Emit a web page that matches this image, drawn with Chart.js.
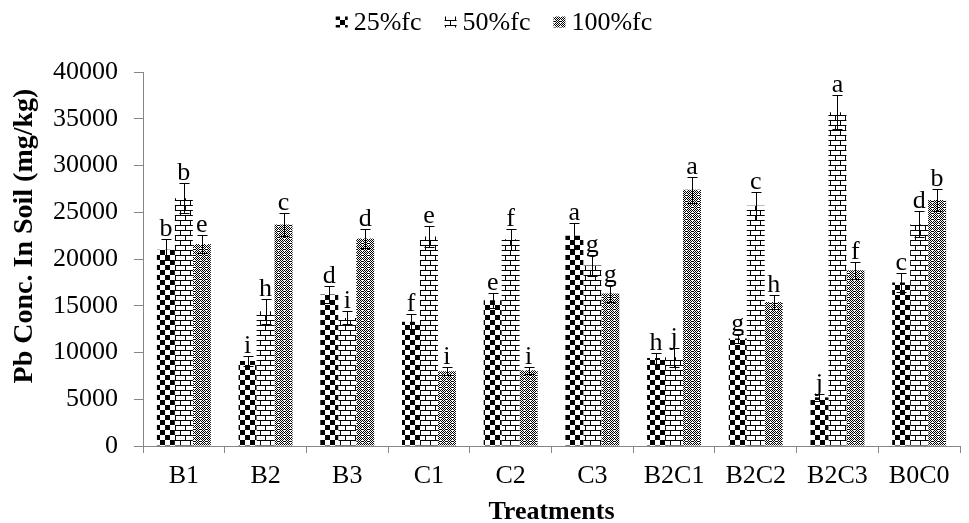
<!DOCTYPE html>
<html>
<head>
<meta charset="utf-8">
<script src="https://cdn.jsdelivr.net/npm/chart.js@4"></script>
<style>
    body { margin: 0; background: #fff; }
    #wrap { width: 969px; height: 523px; }
</style>
</head>
<body>
<div id="wrap"><canvas id="pbChart" width="969" height="523"></canvas></div>
<script>
// Data
const treatments = ['B1', 'B2', 'B3', 'C1', 'C2', 'C3', 'B2C1', 'B2C2', 'B2C3', 'B0C0'];
const seriesNames = ['25%fc', '50%fc', '100%fc'];

const fc25 = [21000, 9100, 16200, 13300, 15600, 22500, 9400, 11500, 5200, 17500];
const fc50 = [26500, 14400, 13700, 22400, 22100, 19300, 9500, 25700, 35700, 23700];
const fc100 = [21600, 23700, 22200, 8000, 8100, 16300, 27400, 15400, 18800, 26300];

const err25 = [1100, 500, 900, 800, 800, 1400, 600, 500, 400, 1000];
const err50 = [1600, 1300, 700, 1100, 1100, 1100, 1000, 1500, 1800, 1400];
const err100 = [1000, 1200, 1000, 400, 400, 900, 1400, 800, 900, 1200];

const letters25 = ['b', 'i', 'd', 'f', 'e', 'a', 'h', 'g', 'j', 'c'];
const letters50 = ['b', 'h', 'i', 'e', 'f', 'g', 'j', 'c', 'a', 'd'];
const letters100 = ['e', 'c', 'd', 'i', 'i', 'g', 'a', 'h', 'f', 'b'];

const yTicks = [0, 5000, 10000, 15000, 20000, 25000, 30000, 35000, 40000];

const xTitle = 'Treatments';
const yTitle = 'Pb Conc. In Soil (mg/kg)';

const serif = "'Liberation Serif', 'Times New Roman', serif";
const axisGrey = '#868686';

// Fill patterns
function checkerPattern() {
    const c = document.createElement('canvas');
    c.width = 10; c.height = 10;
    const g = c.getContext('2d');
    g.fillStyle = '#fff';
    g.fillRect(0, 0, 10, 10);
    g.fillStyle = '#000';
    g.fillRect(0, 0, 5, 5);
    g.fillRect(5, 5, 5, 5);
    return g.createPattern(c, 'repeat');
}

function brickPattern() {
    const c = document.createElement('canvas');
    c.width = 10; c.height = 10;
    const g = c.getContext('2d');
    g.fillStyle = '#fff';
    g.fillRect(0, 0, 10, 10);
    g.fillStyle = '#000';
    g.fillRect(0, 0, 10, 1);
    g.fillRect(0, 5, 10, 1);
    g.fillRect(0, 0, 1, 5);
    g.fillRect(5, 5, 1, 5);
    return g.createPattern(c, 'repeat');
}

function diamondPattern() {
    const c = document.createElement('canvas');
    c.width = 6; c.height = 6;
    const g = c.getContext('2d');
    g.fillStyle = '#fff';
    g.fillRect(0, 0, 6, 6);
    g.fillStyle = '#000';
    const dots = [[0,0],[2,0],[4,0],[1,1],[3,1],[5,1],[0,2],[4,2],[1,3],[2,3],[3,3],[5,3],[0,4],[4,4],[1,5],[3,5],[5,5]];
    dots.forEach(d => g.fillRect(d[0], d[1], 1, 1));
    return g.createPattern(c, 'repeat');
}

const errors = [err25, err50, err100];
const letters = [letters25, letters50, letters100];

// Error bars and significance letters
const errorBarPlugin = {
    id: 'errorBars',
    afterDatasetsDraw(chart) {
        const ctx = chart.ctx;
        const yScale = chart.scales.y;
        ctx.save();
        ctx.strokeStyle = '#000';
        ctx.lineWidth = 1;
        chart.data.datasets.forEach((ds, i) => {
            const meta = chart.getDatasetMeta(i);
            meta.data.forEach((bar, j) => {
                const v = ds.data[j];
                const e = errors[i][j];
                const x = Math.round(bar.x) + 0.5;
                const top = Math.round(yScale.getPixelForValue(v + e)) + 0.5;
                const bot = Math.round(yScale.getPixelForValue(v - e)) + 0.5;
                ctx.beginPath();
                ctx.moveTo(x, top);
                ctx.lineTo(x, bot);
                ctx.moveTo(x - 5, top);
                ctx.lineTo(x + 5, top);
                ctx.moveTo(x - 5, bot);
                ctx.lineTo(x + 5, bot);
                ctx.stroke();

                ctx.fillStyle = '#000';
                ctx.font = '26px ' + serif;
                ctx.textAlign = 'center';
                ctx.textBaseline = 'alphabetic';
                ctx.fillText(letters[i][j], bar.x, top - 4);
            });
        });
        ctx.restore();
    }
};

// Legend and y title drawn by hand
const legendAndTitlePlugin = {
    id: 'legendAndTitle',
    afterDraw(chart) {
        const ctx = chart.ctx;
        ctx.save();

        // legend
        ctx.font = '26px ' + serif;
        ctx.textBaseline = 'middle';
        ctx.textAlign = 'left';
        const boxW = 12, boxH = 11, boxGap = 6, itemGap = 23;
        const widths = chart.data.datasets.map(ds => ctx.measureText(ds.label).width);
        let total = 0;
        widths.forEach(w => { total += boxW + boxGap + w; });
        total += itemGap * (widths.length - 1);
        let x = 494 - total / 2;
        const cy = 22;
        chart.data.datasets.forEach((ds, i) => {
            ctx.fillStyle = ds.backgroundColor;
            ctx.fillRect(x, cy - boxH / 2, boxW, boxH);
            x += boxW + boxGap;
            ctx.fillStyle = '#000';
            ctx.fillText(ds.label, x, cy + 1);
            x += widths[i] + itemGap;
        });

        // y axis title
        ctx.translate(25, 236);
        ctx.rotate(-Math.PI / 2);
        ctx.font = 'bold 28px ' + serif;
        ctx.textAlign = 'center';
        ctx.textBaseline = 'middle';
        ctx.fillStyle = '#000';
        ctx.fillText(yTitle, 0, 0);

        ctx.restore();
    }
};

const ctx = document.getElementById('pbChart');
new Chart(ctx, {
    type: 'bar',
    data: {
        labels: treatments,
        datasets: [
            { label: seriesNames[0], data: fc25, backgroundColor: checkerPattern() },
            { label: seriesNames[1], data: fc50, backgroundColor: brickPattern() },
            { label: seriesNames[2], data: fc100, backgroundColor: diamondPattern() }
        ]
    },
    options: {
        responsive: false,
        animation: false,
        devicePixelRatio: 1,
        categoryPercentage: 0.66,
        barPercentage: 1.0,
        layout: {
            padding: { top: 72, right: 9, bottom: 0, left: 0 }
        },
        plugins: {
            legend: { display: false },
            tooltip: { enabled: false }
        },
        scales: {
            x: {
                afterFit: function(scale) { scale.height = 77; },
                grid: {
                    display: true,
                    drawOnChartArea: false,
                    tickLength: 7,
                    color: axisGrey,
                    offset: true
                },
                border: { color: axisGrey },
                ticks: {
                    color: '#000',
                    font: { family: serif, size: 26 },
                    padding: 8
                },
                title: {
                    display: true,
                    text: xTitle,
                    color: '#000',
                    font: { family: serif, size: 26, weight: 'bold', lineHeight: 0.8 },
                    padding: { top: 0, bottom: 0 }
                }
            },
            y: {
                min: 0,
                max: 40000,
                afterFit: function(scale) { scale.width = 143; },
                afterBuildTicks: function(scale) {
                    scale.ticks = yTicks.map(v => ({ value: v }));
                },
                grid: {
                    display: true,
                    drawOnChartArea: false,
                    tickLength: 9,
                    color: axisGrey
                },
                border: { color: axisGrey },
                ticks: {
                    color: '#000',
                    font: { family: serif, size: 26 },
                    padding: 16,
                    callback: function(value) { return String(value); }
                }
            }
        }
    },
    plugins: [errorBarPlugin, legendAndTitlePlugin]
});
</script>
</body>
</html>
